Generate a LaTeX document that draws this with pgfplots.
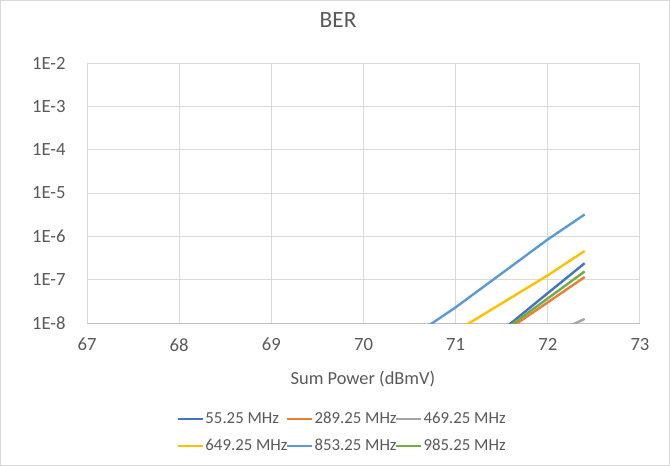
\documentclass[border=0pt]{standalone}
\usepackage{fontspec}
\setmainfont{Carlito}
\usepackage{pgfplots}
\pgfplotsset{compat=1.18}
\definecolor{txt}{HTML}{595959}
\definecolor{gridc}{HTML}{D9D9D9}
\definecolor{axc}{HTML}{BFBFBF}
\definecolor{sA}{HTML}{4472C4}
\definecolor{sB}{HTML}{ED7D31}
\definecolor{sC}{HTML}{A5A5A5}
\definecolor{sD}{HTML}{FFC000}
\definecolor{sE}{HTML}{5B9BD5}
\definecolor{sF}{HTML}{70AD47}
\begin{document}
\begin{tikzpicture}
\begin{semilogyaxis}[
scale only axis,
width=414.75pt, height=195pt,
at={(0,0)}, anchor=south west,
xmin=67, xmax=73, ymin=1e-8, ymax=1e-2,
xtick={67,68,...,73},
ytick={1e-8,1e-7,1e-6,1e-5,1e-4,1e-3,1e-2},
yticklabels={1E-8,1E-7,1E-6,1E-5,1E-4,1E-3,1E-2},
yminorticks=false,
grid=major, major grid style={gridc, line width=0.75pt},
major tick length=0pt,
axis x line*=bottom, axis y line*=left,
x axis line style={axc, line width=0.75pt},
y axis line style={draw=none},
every tick label/.append style={font=\fontsize{14}{16}\selectfont, txt},
xticklabel style={yshift=-8pt},
yticklabel style={xshift=-12.5pt},
/pgf/number format/assume math mode=true,
title={BER},
title style={at={(0.454,1.1346)}, anchor=center, font=\fontsize{17.5}{20}\selectfont, txt},
xlabel={Sum Power (dBmV)},
every axis x label/.style={at={(0.499,-0.2154)}, anchor=center, font=\fontsize{13.8}{16}\selectfont, txt},
legend columns=3,
legend style={at={(0.4575,-0.421)}, anchor=center, draw=none, fill=none,
  font=\fontsize{12.6}{15}\selectfont, text=txt, row sep=8pt,
  nodes={inner xsep=1pt, inner ysep=1pt}},
legend cell align=left,
legend image code/.code={\draw[#1] (0pt,0pt) -- (19pt,0pt);},
every axis plot/.append style={line width=1.8pt},
]
\addplot[sA] coordinates {(70,5e-11) (71,9e-10) (72,4.9e-8) (72.4,2.4e-7)};
\addlegendentry{\makebox[59pt][l]{55.25 MHz}}
\addplot[sB] coordinates {(70,6e-11) (71,1.07e-9) (72,3.0e-8) (72.4,1.15e-7)};
\addlegendentry{\makebox[59pt][l]{289.25 MHz}}
\addplot[sC] coordinates {(70,1e-12) (71,1e-10) (72,5e-9) (72.4,1.24e-8)};
\addlegendentry{\makebox[59pt][l]{469.25 MHz}}
\addplot[sD] coordinates {(70,3e-10) (71,6.4e-9) (72,1.26e-7) (72.4,4.6e-7)};
\addlegendentry{\makebox[59pt][l]{649.25 MHz}}
\addplot[sE] coordinates {(70,8e-10) (70.5,4.4e-9) (71,2.3e-8) (72,8.5e-7) (72.4,3.2e-6)};
\addlegendentry{\makebox[59pt][l]{853.25 MHz}}
\addplot[sF] coordinates {(70,6e-11) (71,1.05e-9) (72,3.7e-8) (72.4,1.55e-7)};
\addlegendentry{\makebox[59pt][l]{985.25 MHz}}
\end{semilogyaxis}
\draw[gridc, line width=0.75pt] (-64.9pt,-106.9pt) rectangle (436.9pt,241.9pt);
\useasboundingbox (-65.25pt,-107.25pt) rectangle (437.25pt,242.25pt);
\end{tikzpicture}
\end{document}
